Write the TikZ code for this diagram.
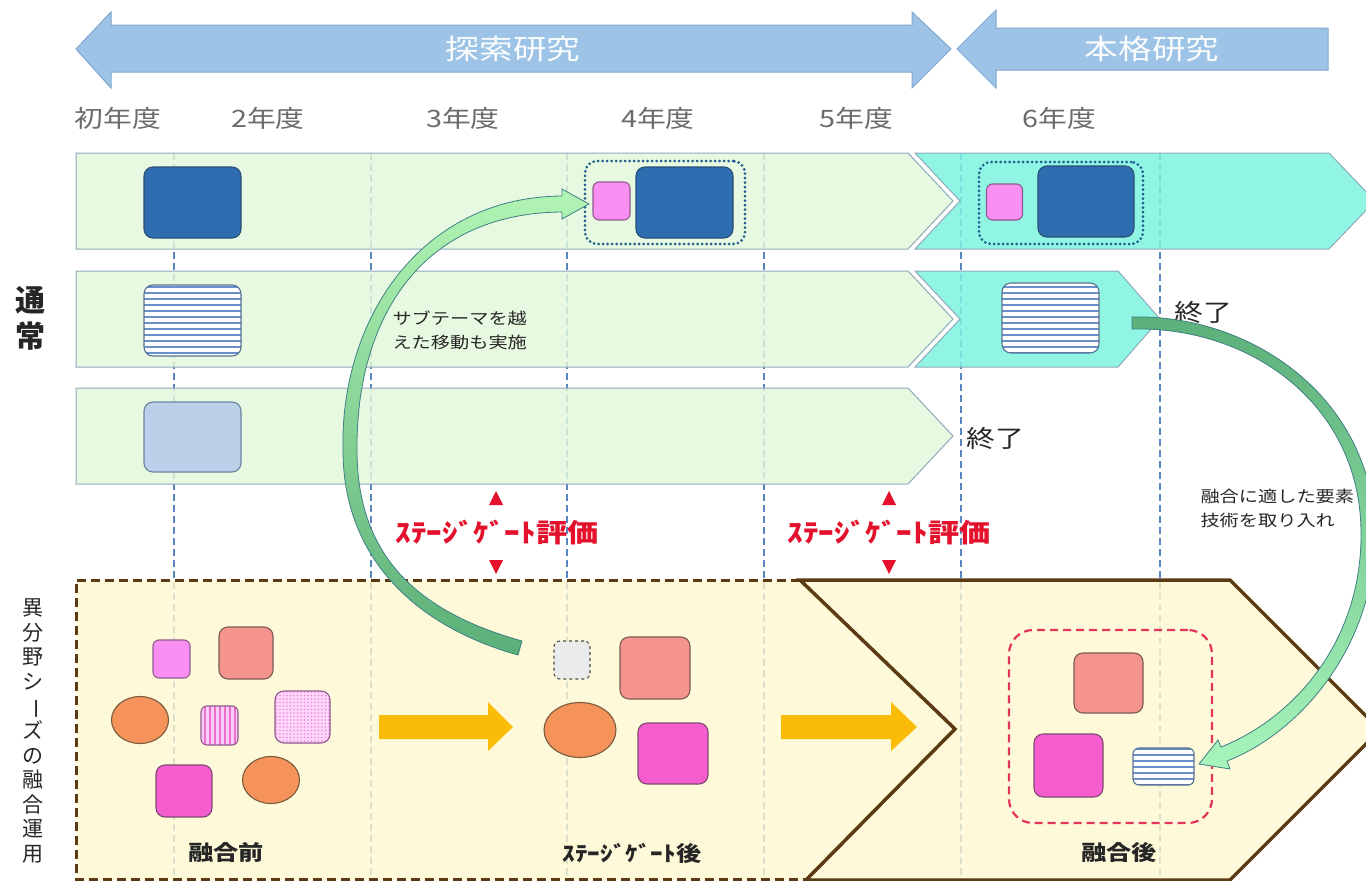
\documentclass[tikz,border=0pt]{standalone}
\usepackage{fontspec}
\newfontfamily\jp{Noto Sans CJK JP}
\usetikzlibrary{shapes.geometric,patterns.meta}
\definecolor{arrowblue}{HTML}{9DC3E6}
\definecolor{arrowedge}{HTML}{7FA7D0}
\definecolor{rowgreen}{HTML}{E2F8DA}
\definecolor{rowedge}{HTML}{8EA9BC}
\definecolor{aqua}{HTML}{7DF3DE}
\definecolor{dblue}{HTML}{2E6DB0}
\definecolor{dbedge}{HTML}{2A4F78}
\definecolor{lblue}{HTML}{BBD1EA}
\definecolor{pinkS}{HTML}{F98FF2}
\definecolor{pinkedge}{HTML}{8E5A8E}
\definecolor{salmon}{HTML}{F5948F}
\definecolor{salmonedge}{HTML}{7D5A55}
\definecolor{orng}{HTML}{F5935B}
\definecolor{orngedge}{HTML}{7B5A3F}
\definecolor{magen}{HTML}{F55DCF}
\definecolor{magedge}{HTML}{7F4A72}
\definecolor{yell}{HTML}{FEF8CE}
\definecolor{brwn}{HTML}{5B3A14}
\definecolor{sgred}{HTML}{E3112B}
\definecolor{vline}{HTML}{5A86C2}
\definecolor{dotblue}{HTML}{1F5C8E}
\definecolor{reddash}{HTML}{E2355C}
\definecolor{orarrow}{HTML}{FBBC07}
\definecolor{txtgray}{HTML}{6B6B6B}
\definecolor{stripeblue}{HTML}{6A8FCC}
\definecolor{greenlight}{HTML}{B2F5B4}
\definecolor{greendark}{HTML}{5BAF78}
\definecolor{greenedge}{HTML}{3F7F86}
\newcommand\hsx[1]{\scalebox{1.2}[1]{#1}}
\begin{document}
\begin{tikzpicture}[x=1pt,y=-1pt,
  bigarrow/.style={fill=arrowblue,draw=arrowedge,line width=1},
  yearlbl/.style={text=txtgray,font=\jp\fontsize{24}{28}\selectfont},
  rowg/.style={fill=rowgreen,fill opacity=0.82,draw=rowedge,line width=1},
  rowc/.style={fill=aqua,fill opacity=0.85,draw=rowedge,line width=1},
  vdash/.style={draw=vline,line width=1.8,dash pattern=on 7pt off 4pt},
  rbox/.style={rectangle,rounded corners=9,inner sep=0,line width=1.1},
  dbl/.style={rbox,fill=dblue,draw=dbedge},
  lbl/.style={rbox,fill=lblue,draw=dbedge!70},
  pnk/.style={rbox,fill=pinkS,draw=pinkedge,rounded corners=6},
  sal/.style={rbox,fill=salmon,draw=salmonedge},
  mag/.style={rbox,fill=magen,draw=magedge},
  orn/.style={ellipse,inner sep=0,fill=orng,draw=orngedge,line width=1.1},
  stripebox/.style={rbox,draw=dbedge!80,preaction={fill=white},pattern={Lines[angle=0,distance=6pt,line width=2.4pt]},pattern color=stripeblue},
  dotframe/.style={rbox,draw=dotblue,line width=3,line cap=round,dash pattern=on 0pt off 4.5pt,rounded corners=12},
  orarr/.style={fill=orarrow},
  greenarr/.style={top color=greenlight,bottom color=greendark,draw=greenedge,line width=0.8},
  greenarrB/.style={top color=greendark,bottom color=greenlight!80!aqua,draw=greenedge,line width=0.8},
  sgtext/.style={text=sgred,font=\jp\bfseries\fontsize{26}{30}\selectfont},
  smalltxt/.style={font=\jp\fontsize{16}{24}\selectfont,align=left,text=black!85},
  endtxt/.style={font=\jp\fontsize{24}{28}\selectfont,text=black!85},
  btmtxt/.style={font=\jp\bfseries\fontsize{21}{24}\selectfont,text=black!85}
]
\useasboundingbox (0,0) rectangle (1366,881);
\clip (0,0) rectangle (1366,881);

% top phase arrows
\path[bigarrow] (76,49) -- (111,12) -- (111,25) -- (912,25) -- (912,12) -- (951,49) -- (912,88) -- (912,72) -- (111,72) -- (111,88) -- cycle;
\path[bigarrow] (957,49) -- (996,10) -- (996,28) -- (1328,28) -- (1328,70) -- (996,70) -- (996,88) -- cycle;
\node[text=white!95!arrowblue,font=\jp\fontsize{28}{32}\selectfont] (phase1) at (513,49) {\hsx{探索研究}};
\node[text=white!95!arrowblue,font=\jp\fontsize{28}{32}\selectfont] (phase2) at (1152,49) {\hsx{本格研究}};

% year labels
\node[yearlbl] (y1) at (118,118) {\hsx{初年度}};
\node[yearlbl] (y2) at (268,118) {\hsx{2年度}};
\node[yearlbl] (y3) at (463,118) {\hsx{3年度}};
\node[yearlbl] (y4) at (658,118) {\hsx{4年度}};
\node[yearlbl] (y5) at (856,118) {\hsx{5年度}};
\node[yearlbl] (y6) at (1059,118) {\hsx{6年度}};

% vertical dashed year lines
\foreach \xx in {174,371,567,764,961,1160} \draw[vdash] (\xx,153) -- (\xx,881);

% rows
\path[rowg] (76,153) -- (908,153) -- (953,201) -- (908,249) -- (76,249) -- cycle;
\path[rowc] (915,153) -- (1329,153) -- (1375,201) -- (1329,249) -- (915,249) -- (960,201) -- cycle;
\path[rowg] (76,271) -- (908,271) -- (953,319) -- (908,367) -- (76,367) -- cycle;
\path[rowc] (915,271) -- (1118,271) -- (1160,319) -- (1118,367) -- (915,367) -- (960,319) -- cycle;
\path[rowg] (76,388) -- (908,388) -- (953,436) -- (908,484) -- (76,484) -- cycle;

% bottom area
\fill[yell,fill opacity=0.8] (76,580) -- (800,580) -- (955,729) -- (806,880) -- (76,880) -- cycle;
\draw[brwn,line width=3,dash pattern=on 9pt off 5pt] (800,580) -- (76,580) -- (76,879) -- (806,879);
\path[fill=yell,fill opacity=0.8,draw=brwn,line width=3.5,line join=miter] (800,580) -- (1230,580) -- (1380,730) -- (1230,880) -- (806,880) -- (955,729) -- cycle;

% row boxes
\node[dbl,minimum width=97,minimum height=71] (b11) at (192.5,202.5) {};
\node[dotframe,minimum width=160,minimum height=83] (f1) at (665,202.5) {};
\node[pnk,minimum width=37,minimum height=38] (p1) at (611.5,201) {};
\node[dbl,minimum width=97,minimum height=71] (b12) at (684.5,202.5) {};
\node[dotframe,minimum width=164,minimum height=82] (f2) at (1061,203) {};
\node[pnk,minimum width=36,minimum height=36] (p2) at (1004.5,202) {};
\node[dbl,minimum width=96,minimum height=71] (b13) at (1086,201.5) {};
\node[stripebox,minimum width=97,minimum height=71] (s1) at (192.5,320.5) {};
\node[stripebox,minimum width=97,minimum height=70] (s2) at (1050.5,318) {};
\node[lbl,minimum width=97,minimum height=70] (l1) at (192.5,437) {};

% bottom left: before fusion
\node[pnk,minimum width=37,minimum height=38] (bp1) at (171.5,659) {};
\node[sal,minimum width=54,minimum height=52] (bs1) at (246,653) {};
\node[orn,minimum width=57,minimum height=47] (be1) at (140,720) {};
\node[rbox,rounded corners=6,draw=pinkedge,preaction={fill=pinkS!45},pattern={Lines[angle=90,distance=5pt,line width=1.8pt]},pattern color=pinkS!80!purple,minimum width=37,minimum height=39] (bv1) at (219.5,725.5) {};
\node[rbox,draw=pinkedge,preaction={fill=pinkS!35},pattern={Dots[distance=3.5pt,radius=0.8pt]},pattern color=pinkS!90!purple,minimum width=55,minimum height=52] (bd1) at (302.5,717) {};
\node[mag,minimum width=56,minimum height=52] (bm1) at (184,791) {};
\node[orn,minimum width=57,minimum height=47] (be2) at (271,780) {};

% after stage gate
\node[rbox,rounded corners=6,fill=black!8,draw=black!70,dashed,minimum width=36,minimum height=38] (mg) at (572,660) {};
\node[orn,minimum width=72,minimum height=55] (me) at (580,730) {};
\node[sal,minimum width=70,minimum height=62] (ms) at (655,668) {};
\node[mag,minimum width=70,minimum height=61] (mm) at (673,753.5) {};

% after fusion
\node[rbox,draw=reddash,line width=2.2,dash pattern=on 8pt off 5pt,rounded corners=24,minimum width=203,minimum height=193] (rf) at (1110.5,726.5) {};
\node[sal,minimum width=69,minimum height=60] (rs) at (1108.5,683) {};
\node[mag,minimum width=69,minimum height=63] (rm) at (1068.5,765.5) {};
\node[stripebox,rounded corners=6,minimum width=61,minimum height=37] (rst) at (1163.5,766.5) {};

% orange progress arrows
\path[orarr] (379,715) -- (488,715) -- (488,702) -- (513,727) -- (488,751) -- (488,739) -- (379,739) -- cycle;
\path[orarr] (781,715) -- (891,715) -- (891,702) -- (917,727) -- (891,751) -- (891,739) -- (781,739) -- cycle;

% texts
\node[font=\jp\bfseries\fontsize{30}{36}\selectfont,align=center,text=black!85] (side1) at (31,318) {通\\常};
\node[font=\jp\fontsize{21}{24.6}\selectfont,align=center,text=black!85] (side2) at (33,731) {異\\分\\野\\シ\\\rotatebox[origin=c]{-90}{ー}\\ズ\\の\\融\\合\\運\\用};
\node[smalltxt,anchor=west] (note1) at (389,330) {\hsx{サブテーマを越}\\\hsx{えた移動も実施}};
\node[smalltxt,anchor=west] (note2) at (1197,508) {\hsx{融合に適した要素}\\\hsx{技術を取り入れ}};
\node[endtxt] (end1) at (995,438) {\hsx{終了}};
\node[endtxt] (end2) at (1203,312) {\hsx{終了}};
\node[btmtxt] (lab1) at (226,853) {\hsx{融合前}};
\node[btmtxt] (lab2) at (632,853) {\hsx{ｽﾃｰｼﾞｹﾞｰﾄ後}};
\node[btmtxt] (lab3) at (1119,853) {\hsx{融合後}};

% green curved arrows
\path[greenarr] (518,655) .. controls (418,627) and (343,560) .. (343,450) .. controls (340,320) and (420,197) .. (562,196) -- (562,189) -- (589,204) -- (562,219) -- (562,212) .. controls (420,213) and (356,320) .. (357,450) .. controls (357,560) and (422,613) .. (522,641) -- cycle;
\path[greenarrB] (1132,317) .. controls (1251,314) and (1371,397) .. (1375,530) .. controls (1377,641) and (1304,731) .. (1227,761) -- (1230,769) -- (1199,764) -- (1218,740) -- (1221,747) .. controls (1296,717) and (1363,639) .. (1361,530) .. controls (1359,403) and (1249,326) .. (1132,329) -- cycle;

% stage gate marks
\fill[sgred] (496,491) -- (503,505) -- (489,505) -- cycle;
\fill[sgred] (489,560) -- (503,560) -- (496,574) -- cycle;
\node[sgtext] (sg1) at (497,533) {\hsx{ｽﾃｰｼﾞｹﾞｰﾄ評価}};
\fill[sgred] (889,491) -- (896,505) -- (882,505) -- cycle;
\fill[sgred] (882,560) -- (896,560) -- (889,574) -- cycle;
\node[sgtext] (sg2) at (889,533) {\hsx{ｽﾃｰｼﾞｹﾞｰﾄ評価}};
\end{tikzpicture}
\end{document}
